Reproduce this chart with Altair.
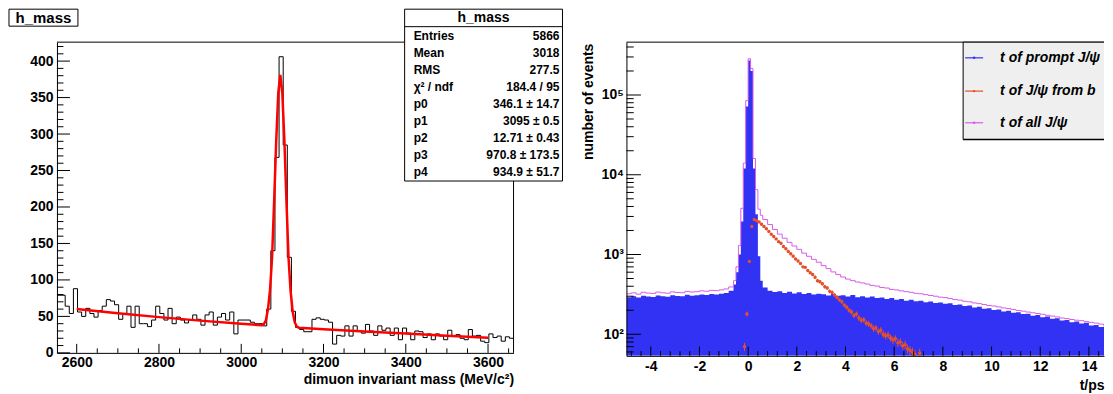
import altair as alt
import numpy as np
import pandas as pd

FONT = "Liberation Sans"
BLACK = "#000000"
BLUE = "#3232f4"
MAGENTA = "#d85ce6"
ORANGE = "#e4502c"
FITRED = "#ff0000"

# ======================= left panel data (h_mass) =======================
mass_range = [2552, 3662]
mass_bin_width = 10
mass_counts = [79, 79, 64, 54, 88, 56, 50, 61, 54, 49,
               58, 64, 73, 71, 66, 46, 54, 64, 35, 64,
               40, 40, 36, 45, 64, 54, 45, 61, 40, 49,
               45, 41, 45, 52, 46, 38, 52, 56, 38, 49,
               54, 45, 56, 26, 45, 45, 45, 42, 40,
               40, 37, 60, 140, 268, 406, 285, 131, 57,
               35, 32, 29, 29, 46, 48, 46, 45, 42,
               12, 24, 23, 37, 23, 37, 30, 27, 39, 30,
               24, 37, 31, 34, 24, 34, 18, 34, 27, 18,
               30, 29, 21, 26, 18, 26, 23, 18, 31, 23,
               25, 20, 18, 32, 23, 24, 16, 14, 26, 21,
               23, 16, 22, 20]
fit_mass = [2600, 2700, 2800, 2900, 3000, 3040, 3050, 3055, 3060, 3065,
            3070, 3075, 3080, 3085, 3090, 3095, 3100, 3105, 3110, 3115,
            3120, 3125, 3130, 3135, 3140, 3200, 3300, 3400, 3500, 3600]
fit_counts = [60.2, 54.3, 49.0, 44.2, 39.9, 38.3, 37.8, 39.5, 44.6, 60,
              86, 131, 208, 290, 356, 381, 355, 290, 207, 130,
              85, 57, 42, 36, 34.5, 32.4, 29.2, 26.4, 23.3, 20.6]
mass_major_x = [2600, 2800, 3000, 3200, 3400, 3600]
mass_minor_x = [2650, 2700, 2750, 2850, 2900, 2950, 3050, 3100, 3150,
                3250, 3300, 3350, 3450, 3500, 3550, 3650]
mass_major_y = [0, 50, 100, 150, 200, 250, 300, 350, 400]
mass_minor_y = [v for v in range(10, 430, 10) if v % 50 != 0]
mass_y_max = 426
stats_title = "h_mass"
stats_labels = ["Entries", "Mean", "RMS", "χ² / ndf", "p0", "p1", "p2", "p3", "p4"]
stats_values = ["5866", "3018", "277.5", "184.4 / 95", "346.1 ± 14.7",
                "3095 ± 0.5", "12.71 ± 0.43", "970.8 ± 173.5", "934.9 ± 51.7"]

# ======================= right panel data (t/ps) =======================
t_range = [-5, 14.62]
t_hist_end = 15.0
y_range = [53.6, 460000]
t_bins_left = [round(-5.0 + 0.2 * i, 2) for i in range(22)]
t_bins_mid = [round(-0.6 + 0.1 * i, 2) for i in range(12)]
t_bins_right = [round(0.6 + 0.2 * i, 2) for i in range(72)]
t_bins = t_bins_left + t_bins_mid + t_bins_right

prompt_counts = (
    [292, 300, 288, 305, 298, 294, 306, 300, 296, 308, 302, 299, 312, 305, 309,
     316, 311, 320, 315, 322, 330, 352]
    + [420, 600, 1000, 2600, 12000, 72000, 270000, 200000, 12000, 3200, 950, 470]
    + [385, 352, 338, 346, 330, 341, 324, 336, 320, 328,
       316, 322, 318, 306, 320, 304, 309, 298, 310, 292,
       300, 290, 297, 284, 289, 276, 285, 271, 277, 264,
       270, 259, 263, 252, 257, 246, 251, 241, 244, 233,
       236, 226, 229, 217, 221, 209, 212, 201, 204, 193,
       197, 186, 189, 179, 181, 171, 174, 163, 167, 156,
       159, 149, 151, 141, 145, 136, 139, 129, 131, 123, 125, 116]
)
all_counts = (
    [322, 331, 318, 336, 328, 325, 338, 331, 327, 340, 334, 332, 345, 338, 342,
     350, 346, 355, 352, 360, 370, 392]
    + [470, 700, 1300, 3800, 14000, 85000, 285000, 215000, 16000, 6500, 3700, 3100]
    + [2750, 2380, 2060, 1800, 1600, 1420, 1280, 1160, 1040, 950,
       870, 800, 725, 665, 605, 560, 522, 492, 470, 452,
       440, 426, 410, 402, 386, 380, 365, 360, 350, 342,
       336, 326, 322, 314, 306, 300, 292, 288, 281, 273,
       268, 259, 255, 247, 242, 236, 229, 226, 220, 214,
       210, 204, 199, 195, 190, 186, 182, 178, 173, 169,
       165, 160, 157, 153, 150, 148, 144, 141, 138, 134, 130, 124]
)
fromb_t = [-0.15, -0.05, 0.05, 0.15] + [round(0.25 + 0.1 * i, 2) for i in range(67)] + [7.05]
fromb_counts = (
    [70, 180, 820, 2250]
    + [2750, 2650, 2560, 2400, 2250, 2100, 1950, 1800, 1680, 1570,
       1450, 1380, 1260, 1180, 1090, 1020, 950, 880, 830, 770,
       700, 690, 630, 590, 560, 520, 470, 455, 430, 395,
       380, 345, 335, 310, 290, 270, 255, 232, 218, 200,
       190, 172, 180, 160, 150, 152, 138, 135, 128, 118,
       120, 108, 112, 100, 96, 98, 90, 85, 88, 78,
       80, 72, 74, 66, 63, 60, 56]
    + [58]
)
fromb_err = (
    [8, 13, 29, 47]
    + [52, 51, 51, 49, 47, 46, 44, 42, 41, 40,
       38, 37, 35, 34, 33, 32, 31, 30, 29, 28,
       26, 26, 25, 24, 24, 23, 22, 21, 21, 20,
       19, 19, 18, 18, 17, 16, 16, 15, 15, 14,
       14, 13, 13, 13, 12, 12, 12, 12, 11, 11,
       11, 10, 11, 10, 10, 10, 9, 9, 9, 9,
       9, 8, 9, 8, 8, 8, 7]
    + [8]
)
t_major = [-4, -2, 0, 2, 4, 6, 8, 10, 12, 14]
t_minor = [round(-4.8 + 0.4 * k, 2) for k in range(50)
           if round(-4.8 + 0.4 * k, 2) not in t_major and -4.8 + 0.4 * k <= t_range[1]]
y_major = [100, 1000, 10000, 100000]
y_minor = [m * d for d in [10, 100, 1000, 10000, 100000] for m in range(2, 10)
           if y_range[0] <= m * d <= y_range[1]]
legend_labels = ["t of prompt J/ψ", "t of J/ψ from b", "t of all J/ψ"]
legend_colors = [BLUE, ORANGE, MAGENTA]

# ======================= geometry =======================
LW, LH = 457, 311
RW, RH = 478, 314
GAP = 113
one = pd.DataFrame({"d": [0]})


def rule(x1, x2, y1, y2, color=BLACK, w=1.0):
    return alt.Chart(one).mark_rule(color=color, strokeWidth=w).encode(
        x=alt.value(x1), x2=alt.value(x2), y=alt.value(y1), y2=alt.value(y2))


def box(x1, x2, y1, y2, fill, stroke=None):
    kw = dict(fill=fill)
    if stroke:
        kw.update(stroke=stroke, strokeWidth=1)
    return alt.Chart(one).mark_rect(**kw).encode(
        x=alt.value(x1), x2=alt.value(x2), y=alt.value(y1), y2=alt.value(y2))


def label(x, y, text, size, align="left", weight="bold", style="normal", lh=None):
    kw = dict(align=align, baseline="middle", font=FONT, fontSize=size,
              fontWeight=weight, fontStyle=style, color=BLACK)
    if lh:
        kw["lineHeight"] = lh
    return alt.Chart(one).mark_text(**kw).encode(
        x=alt.value(x), y=alt.value(y), text=alt.value(text))


lab = dict(labelFont=FONT, labelFontSize=14, labelFontWeight="bold", labelColor=BLACK,
           labelOverlap=False, labelFlush=False, grid=False, ticks=False, tickSize=0,
           domainColor=BLACK, domainWidth=1, zindex=1)
tit = dict(titleFont=FONT, titleFontSize=14, titleFontWeight="bold", titleColor=BLACK)

# ======================= left panel =======================
xs_l = alt.Scale(domain=mass_range, nice=False, zero=False)
ys_l = alt.Scale(domain=[0, mass_y_max], nice=False)
ax_lx = alt.Axis(values=mass_major_x, format="d", labelPadding=3, domain=True,
                 title="dimuon invariant mass (MeV/c²)", titleAnchor="end",
                 titleAlign="right", titleX=LW, titleY=31, titleBaseline="alphabetic",
                 **lab, **tit)
ax_ly = alt.Axis(values=mass_major_y, format="d", labelPadding=4, domain=True,
                 title=None, **lab)
X_L = lambda f: alt.X(f, type="quantitative", scale=xs_l, axis=ax_lx)
Y_L = lambda f: alt.Y(f, type="quantitative", scale=ys_l, axis=ax_ly)

mass_edges = [mass_range[0] + mass_bin_width * i for i in range(len(mass_counts))]
hist_df = pd.DataFrame({"x": mass_edges + [mass_range[1]],
                        "y": mass_counts + [mass_counts[-1]]})
fit_df = pd.DataFrame({"x": fit_mass, "y": fit_counts})

hist = alt.Chart(hist_df).mark_line(interpolate="step-after", color=BLACK,
                                    strokeWidth=1, clip=True).encode(x=X_L("x"), y=Y_L("y"))
fit = alt.Chart(fit_df).mark_line(color=FITRED, strokeWidth=2.5).encode(x=X_L("x"), y=Y_L("y"))

lx_major = alt.Chart(pd.DataFrame({"x": mass_major_x})).mark_rule(color=BLACK).encode(
    x=X_L("x"), y=alt.value(LH), y2=alt.value(LH - 9))
lx_minor = alt.Chart(pd.DataFrame({"x": mass_minor_x})).mark_rule(color=BLACK).encode(
    x=X_L("x"), y=alt.value(LH), y2=alt.value(LH - 4.5))
ly_major = alt.Chart(pd.DataFrame({"y": mass_major_y})).mark_rule(color=BLACK).encode(
    y=Y_L("y"), x=alt.value(0), x2=alt.value(13))
ly_minor = alt.Chart(pd.DataFrame({"y": mass_minor_y})).mark_rule(color=BLACK).encode(
    y=Y_L("y"), x=alt.value(0), x2=alt.value(6.5))

left_layers = [
    hist, fit, lx_major, lx_minor, ly_major, ly_minor,
    rule(0, LW, 0, 0), rule(LW, LW, 0, LH),
    # stats box
    box(348, 506, -33, 139, "white", BLACK),
    rule(348, 506, -15.5, -15.5),
    label(427, -24, stats_title, 14, align="center"),
    label(357, -6, stats_labels, 12, align="left", lh=17),
    label(503, -6, stats_values, 12, align="right", lh=17),
    # title box
    box(-48, 21, -33, -16, "white", BLACK),
    label(-13.5, -24.5, stats_title, 15, align="center"),
]
left = alt.layer(*left_layers).properties(width=LW, height=LH)

# ======================= right panel =======================
xs_r = alt.Scale(domain=t_range, nice=False, zero=False)
ys_r = alt.Scale(type="log", domain=y_range, nice=False)
ax_rx = alt.Axis(values=t_major, labelExpr="'' + datum.value", labelPadding=4, domain=True,
                 title="t/ps", titleAnchor="end", titleAlign="right", titleX=RW,
                 titleY=34, titleBaseline="alphabetic", **lab, **tit)
ax_ry = alt.Axis(values=y_major,
                 labelExpr="datum.value == 100 ? '10²' : datum.value == 1000 ? '10³' : "
                           "datum.value == 10000 ? '10⁴' : '10⁵'",
                 labelPadding=3, domain=True, title="number of events", titleAngle=270,
                 titleX=-38, titleY=1, titleAlign="right", titleBaseline="middle",
                 **lab, **tit)
X_R = lambda f: alt.X(f, type="quantitative", scale=xs_r, axis=ax_rx)
Y_R = lambda f: alt.Y(f, type="quantitative", scale=ys_r, axis=ax_ry)

prompt_df = pd.DataFrame({"t": t_bins + [t_hist_end], "y": prompt_counts + [prompt_counts[-1]]})
all_df = pd.DataFrame({"t": t_bins + [t_hist_end], "y": all_counts + [all_counts[-1]]})
fromb_df = pd.DataFrame({"t": fromb_t, "y": fromb_counts,
                         "lo": [v - e for v, e in zip(fromb_counts, fromb_err)],
                         "hi": [v + e for v, e in zip(fromb_counts, fromb_err)]})

prompt = alt.Chart(prompt_df).mark_area(interpolate="step-after", color=BLUE, opacity=1,
                                        clip=True).encode(
    x=X_R("t"), y=Y_R("y"), y2=alt.datum(y_range[0]))
allj = alt.Chart(all_df).mark_line(interpolate="step-after", color=MAGENTA, strokeWidth=1,
                                   clip=True).encode(x=X_R("t"), y=Y_R("y"))
err = alt.Chart(fromb_df).mark_rule(color=ORANGE, strokeWidth=1, clip=True).encode(
    x=X_R("t"), y=Y_R("lo"), y2="hi")
pts = alt.Chart(fromb_df).mark_circle(color=ORANGE, size=12, opacity=1, clip=True).encode(
    x=X_R("t"), y=Y_R("y"))

rx_major = alt.Chart(pd.DataFrame({"t": t_major})).mark_rule(color=BLACK).encode(
    x=X_R("t"), y=alt.value(RH), y2=alt.value(RH - 9.4))
rx_minor = alt.Chart(pd.DataFrame({"t": t_minor})).mark_rule(color=BLACK).encode(
    x=X_R("t"), y=alt.value(RH), y2=alt.value(RH - 4.7))
ry_major = alt.Chart(pd.DataFrame({"y": y_major})).mark_rule(color=BLACK).encode(
    y=Y_R("y"), x=alt.value(0), x2=alt.value(14.5))
ry_minor = alt.Chart(pd.DataFrame({"y": y_minor})).mark_rule(color=BLACK).encode(
    y=Y_R("y"), x=alt.value(0), x2=alt.value(7.3))

LGX, LGY2 = 337, 97.5
legend_rows = [15.7, 49, 80.7]
right_layers = [prompt, allj, err, pts, rx_major, rx_minor, ry_major, ry_minor,
                rule(0, RW, 0, 0),
                box(LGX, RW, 0, LGY2, "#efefef"),
                rule(LGX, LGX, 0, LGY2), rule(LGX, RW, 0, 0), rule(LGX, RW, LGY2, LGY2, w=1.5)]
for yy, txt, col in zip(legend_rows, legend_labels, legend_colors):
    right_layers.append(rule(LGX + 2, LGX + 20, yy, yy, color=col, w=1.2))
    right_layers.append(alt.Chart(one).mark_circle(color=col, size=6, opacity=1).encode(
        x=alt.value(LGX + 11), y=alt.value(yy)))
    right_layers.append(label(LGX + 37, yy, txt, 14, align="left", style="italic"))
right = alt.layer(*right_layers).properties(width=RW, height=RH)

chart = alt.hconcat(left, right, spacing=GAP, bounds="flush").properties(
    padding=0, background="white").configure_view(stroke=None)

chart.save("out.html", embed_options={"renderer": "svg", "actions": False})
